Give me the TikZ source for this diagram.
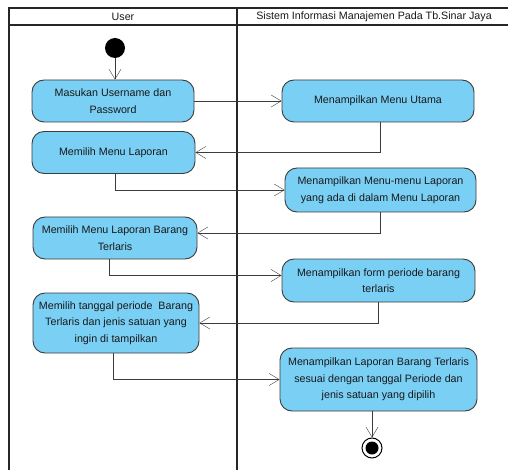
\documentclass[tikz,border=0pt]{standalone}
\usepackage{fontspec}
\setmainfont{Liberation Sans}
\usepackage{tikz}
\usetikzlibrary{positioning,arrows.meta}
\definecolor{actblue}{HTML}{7ACFF5}
\definecolor{linegray}{HTML}{3C3C3C}
\tikzset{
        activity/.style={draw=linegray, line width=0.9pt, fill=actblue, rounded corners=12pt, align=center, inner sep=2pt}, % the rounded action boxes
        flow/.style={draw=linegray, -{Straight Barb[length=10pt,width=12pt]}}, % control flow with an open arrow head
        lane/.style={draw=black!85, line width=1.6pt}, % swimlane borders
}

\begin{document}
\begin{tikzpicture}[x=1pt,y=-1pt,font=\fontsize{10.7}{16.5}\selectfont,text=black!90]
\useasboundingbox (0,0) rectangle (508,470);

% swimlanes
\draw[lane] (9,470) -- (9,8) -- (508,8);
\draw[lane] (9,25) -- (508,25);
\draw[lane] (237,8) -- (237,470);
\node (userlane) at (123,17) {User};
\node (syslane) at (374,17) {Sistem Informasi Manajemen Pada Tb.Sinar Jaya};

\node[circle, fill=black, minimum size=20pt, inner sep=0pt] (start) at (115,48) {};

\node[activity, minimum width=162pt, minimum height=42pt] (masuk) at (113,101) {Masukan Username dan\\Password};
\node[activity, minimum width=192pt, minimum height=42pt] (utama) at (378,101) {Menampilkan Menu Utama};
\node[activity, minimum width=163pt, minimum height=42pt] (pilihmenu) at (113.5,152.5) {Memilih Menu Laporan};
\node[activity, minimum width=191pt, minimum height=44pt] (menulap) at (380.5,190) {Menampilkan Menu-menu Laporan\\yang ada di dalam Menu Laporan};
\node[activity, minimum width=164pt, minimum height=42pt] (pilihbrg) at (115,238) {Memilih Menu Laporan Barang\\Terlaris};
\node[activity, minimum width=193pt, minimum height=43pt] (formper) at (378.5,280.5) {Menampilkan form periode barang\\terlaris};
\node[activity, minimum width=166pt, minimum height=60pt] (pilihtgl) at (116,323) {Memilih tanggal periode\ \ Barang\\Terlaris dan jenis satuan yang\\ingin di tampilkan};
\node[activity, minimum width=197pt, minimum height=63pt] (lapbrg) at (378.5,379.5) {Menampilkan Laporan Barang Terlaris\\sesuai dengan tanggal Periode dan\\jenis satuan yang dipilih};

\node[circle, draw=black, line width=1pt, fill=white, minimum size=20pt, inner sep=0pt] (finish) at (372,448) {};
\node[circle, fill=black, minimum size=13pt, inner sep=0pt] (finishdot) at (finish) {};

\draw[flow] (start) -- (start |- masuk.north);
\draw[flow] (masuk) -- (utama);
\draw[flow] ([xshift=2pt]utama.south) |- (pilihmenu.east);
\draw[flow] ([xshift=2pt]pilihmenu.south) |- (menulap.west);
\draw[flow] (menulap.south) |- ([yshift=5pt]pilihbrg.east);
\draw[flow] ([xshift=-6pt]pilihbrg.south) |- ([yshift=5pt]formper.west);
\draw[flow] (formper.south) |- (pilihtgl.east);
\draw[flow] ([xshift=-3pt]pilihtgl.south) |- (lapbrg.west);
\draw[flow] (lapbrg.south -| finish) -- (finish);

\end{tikzpicture}
\end{document}
